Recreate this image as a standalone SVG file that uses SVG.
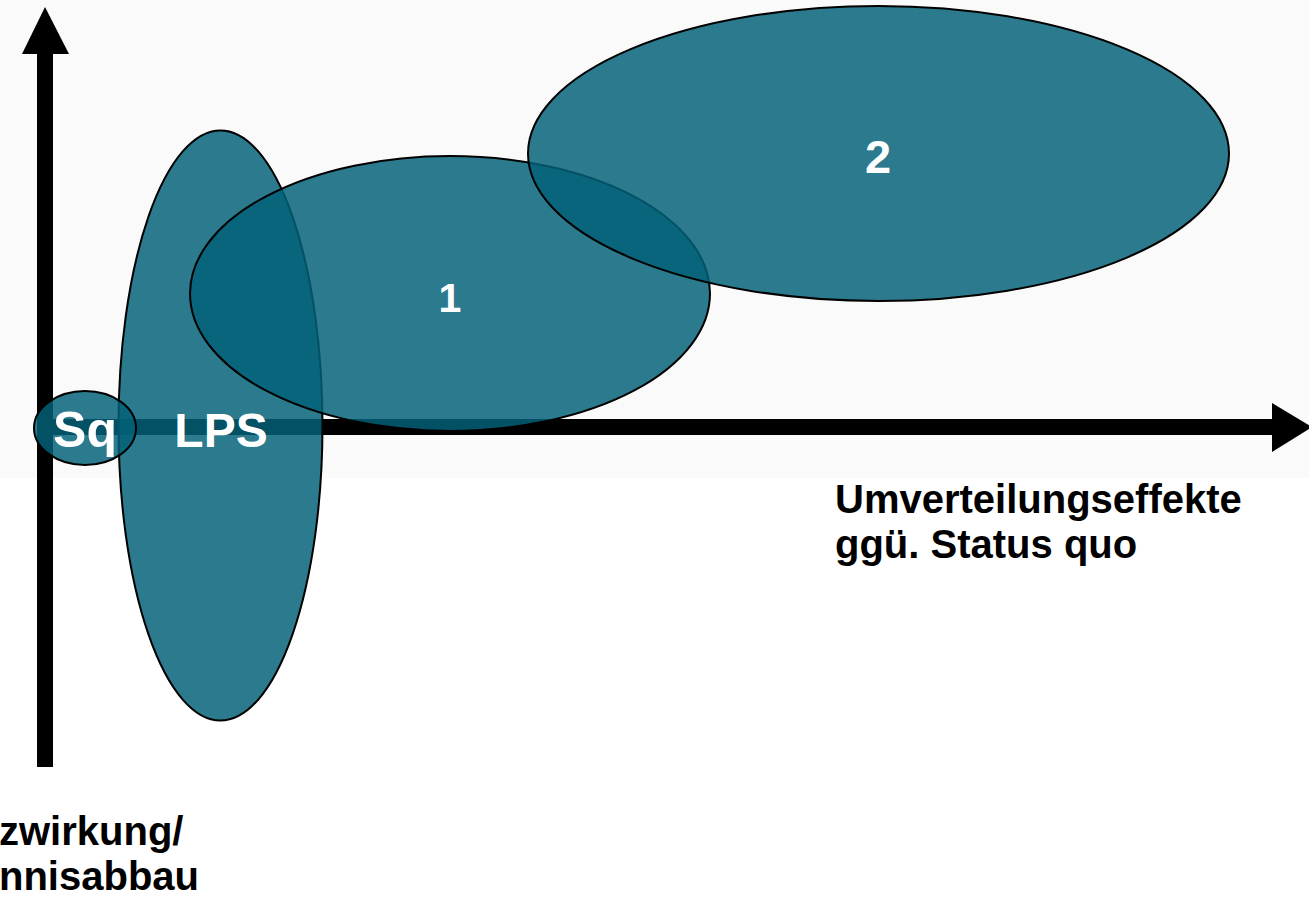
<svg xmlns="http://www.w3.org/2000/svg" width="1309" height="900" viewBox="0 0 1309 900">
<style>
.ell{fill:#026177;fill-opacity:0.84;stroke:#000;stroke-width:2}
.lbl{font-family:"Liberation Sans",Arial,sans-serif;font-weight:bold;fill:#fff}
.ax{font-family:"Liberation Sans",Arial,sans-serif;font-weight:bold;fill:#000;font-size:40px}
</style>
<rect x="0" y="0" width="1309" height="900" fill="#ffffff"/>
<rect x="0" y="0" width="1309" height="478" fill="#fafafa"/>
<g id="connectors">
<rect x="37" y="52" width="16" height="715" fill="#000"/>
<polygon points="45,7 22,54 69,54" fill="#000"/>
<rect x="37" y="419" width="1237" height="16" fill="#000"/>
<polygon points="1272,403 1272,452 1312,427" fill="#000"/>
</g>
<g id="node-lps">
<ellipse class="ell" cx="220.5" cy="425.5" rx="102" ry="295"/>
</g>
<g id="node-sq">
<ellipse class="ell" cx="85" cy="428" rx="51" ry="37"/>
<text class="lbl" x="85" y="447" font-size="50" text-anchor="middle">Sq</text>
</g>
<g id="node-lps-label">
<text class="lbl" x="221" y="447" font-size="48" text-anchor="middle">LPS</text>
</g>
<g id="node-1">
<ellipse class="ell" cx="450" cy="293.5" rx="260" ry="137.5"/>
<text class="lbl" x="450" y="312" font-size="41" text-anchor="middle">1</text>
</g>
<g id="node-2">
<ellipse class="ell" cx="878.5" cy="153.5" rx="350.5" ry="147.5"/>
<text class="lbl" x="878" y="173" font-size="47" text-anchor="middle">2</text>
</g>
<g id="label-x">
<text class="ax" x="835" y="513">Umverteilungseffekte</text>
<text class="ax" x="835" y="558">ggü. Status quo</text>
</g>
<g id="label-y">
<text class="ax" x="-1" y="845" font-size="41">zwirkung/</text>
<text class="ax" x="-1" y="890">nnisabbau</text>
</g>
</svg>
